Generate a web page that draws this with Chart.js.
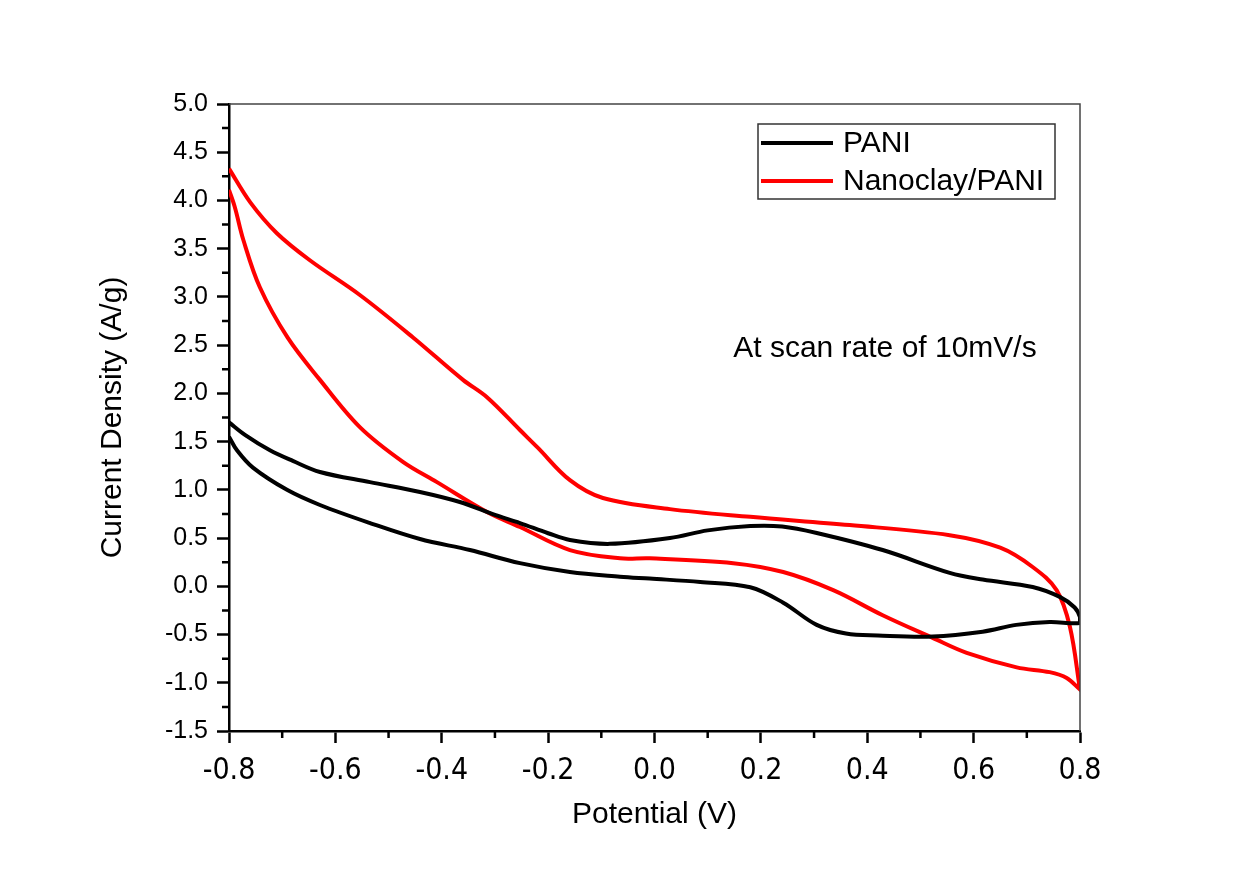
<!DOCTYPE html>
<html>
<head>
<meta charset="utf-8">
<title>CV curves</title>
<script src="https://cdn.jsdelivr.net/npm/chart.js@4.4.1/dist/chart.umd.min.js"></script>
<style>
    body { margin: 0; background: #fff; }
    #wrap { width: 1243px; height: 871px; }
</style>
</head>
<body>
<div id="wrap"><canvas id="cv-chart" width="1243" height="871"></canvas></div>
<script>
// PANI loop: forward sweep -0.8 -> 0.8, then back
const paniX = [-0.8, -0.77, -0.723, -0.68, -0.629, -0.535, -0.441, -0.366, -0.3, -0.253, -0.2, -0.159, -0.084, 0.029, 0.1, 0.18, 0.24, 0.305, 0.429, 0.555, 0.617, 0.711, 0.762, 0.79, 0.8,
               0.8, 0.743, 0.68, 0.617, 0.523, 0.42, 0.36, 0.305, 0.242, 0.18, 0.086, -0.009, -0.065, -0.159, -0.253, -0.347, -0.441, -0.535, -0.629, -0.691, -0.755, -0.785, -0.8];
const paniY = [1.70, 1.57, 1.41, 1.30, 1.185, 1.08, 0.978, 0.874, 0.74, 0.656, 0.55, 0.48, 0.44, 0.50, 0.58, 0.625, 0.62, 0.553, 0.376, 0.14, 0.07, -0.007, -0.11, -0.22, -0.32,
               -0.38, -0.37, -0.40, -0.47, -0.52, -0.51, -0.49, -0.40, -0.17, -0.01, 0.045, 0.08, 0.10, 0.148, 0.24, 0.376, 0.49, 0.656, 0.843, 1.0, 1.23, 1.41, 1.55];

// Nanoclay/PANI loop
const clayX = [-0.8, -0.76, -0.71, -0.648, -0.554, -0.454, -0.36, -0.315, -0.253, -0.22, -0.159, -0.097, 0.029, 0.18, 0.367, 0.555, 0.65, 0.711, 0.756, 0.781, 0.8,
               0.8, 0.775, 0.743, 0.681, 0.587, 0.523, 0.429, 0.336, 0.242, 0.148, -0.009, -0.065, -0.159, -0.253, -0.315, -0.409, -0.473, -0.554, -0.629, -0.69, -0.742, -0.773, -0.789, -0.8];
const clayY = [4.33, 3.98, 3.66, 3.38, 3.02, 2.58, 2.14, 1.96, 1.62, 1.44, 1.10, 0.915, 0.80, 0.72, 0.635, 0.53, 0.40, 0.20, -0.04, -0.42, -1.07,
               -1.07, -0.95, -0.89, -0.84, -0.69, -0.535, -0.30, -0.04, 0.148, 0.24, 0.29, 0.29, 0.376, 0.615, 0.77, 1.08, 1.29, 1.65, 2.14, 2.58, 3.10, 3.59, 3.93, 4.11];

const xTickValues = [-0.8, -0.6, -0.4, -0.2, 0.0, 0.2, 0.4, 0.6, 0.8];
const yTickValues = [-1.5, -1.0, -0.5, 0.0, 0.5, 1.0, 1.5, 2.0, 2.5, 3.0, 3.5, 4.0, 4.5, 5.0];

const seriesNames = ['PANI', 'Nanoclay/PANI'];
const seriesColors = ['#000000', '#ff0000'];
const noteText = 'At scan rate of 10mV/s';
const noteAt = [0.148, 2.46];

function toPoints(xs, ys) {
    return xs.map((v, i) => ({ x: v, y: ys[i] }));
}

const extrasPlugin = {
    id: 'extras',
    afterDraw(chart) {
        const ctx = chart.ctx;
        const a = chart.chartArea;
        const xs = chart.scales.x;
        const ys = chart.scales.y;
        ctx.save();

        // thin frame on top and right
        ctx.strokeStyle = '#444';
        ctx.lineWidth = 1.5;
        ctx.beginPath();
        ctx.moveTo(a.left, a.top);
        ctx.lineTo(a.right, a.top);
        ctx.lineTo(a.right, a.bottom);
        ctx.stroke();

        // minor ticks, halfway between the major ones
        ctx.strokeStyle = '#000';
        ctx.lineWidth = 2.5;
        ctx.beginPath();
        for (let i = 0; i < xTickValues.length - 1; i++) {
            const px = xs.getPixelForValue((xTickValues[i] + xTickValues[i + 1]) / 2);
            ctx.moveTo(px, a.bottom);
            ctx.lineTo(px, a.bottom + 7);
        }
        for (let i = 0; i < yTickValues.length - 1; i++) {
            const py = ys.getPixelForValue((yTickValues[i] + yTickValues[i + 1]) / 2);
            ctx.moveTo(a.left, py);
            ctx.lineTo(a.left - 7, py);
        }
        ctx.stroke();

        // annotation
        ctx.fillStyle = '#000';
        ctx.font = '30px "Liberation Sans", Arial, sans-serif';
        ctx.textBaseline = 'middle';
        ctx.textAlign = 'left';
        ctx.fillText(noteText, xs.getPixelForValue(noteAt[0]), ys.getPixelForValue(noteAt[1]));

        // legend box
        const bx = a.right - 322, by = a.top + 20, bw = 297, bh = 75;
        ctx.strokeStyle = '#333';
        ctx.lineWidth = 1.5;
        ctx.strokeRect(bx, by, bw, bh);
        chart.data.datasets.forEach((ds, i) => {
            const ly = by + 19 + i * 38;
            ctx.strokeStyle = ds.borderColor;
            ctx.lineWidth = 4;
            ctx.beginPath();
            ctx.moveTo(bx + 3, ly);
            ctx.lineTo(bx + 75, ly);
            ctx.stroke();
            ctx.fillStyle = '#000';
            ctx.fillText(ds.label, bx + 85, ly + 1);
        });
        ctx.restore();
    }
};

const ctx = document.getElementById('cv-chart').getContext('2d');
const cvChart = new Chart(ctx, {
    type: 'scatter',
    data: {
        datasets: [
            {
                label: seriesNames[0],
                data: toPoints(paniX, paniY),
                borderColor: seriesColors[0],
                backgroundColor: seriesColors[0],
                borderWidth: 4,
                showLine: true,
                pointRadius: 0,
                tension: 0.35,
                fill: false
            },
            {
                label: seriesNames[1],
                data: toPoints(clayX, clayY),
                borderColor: seriesColors[1],
                backgroundColor: seriesColors[1],
                borderWidth: 4,
                showLine: true,
                pointRadius: 0,
                tension: 0.35,
                fill: false
            }
        ]
    },
    options: {
        responsive: false,
        devicePixelRatio: 1,
        animation: false,
        layout: { padding: { left: 0, right: 163, top: 104, bottom: 0 } },
        plugins: {
            legend: { display: false },
            tooltip: { enabled: false }
        },
        scales: {
            x: {
                type: 'linear',
                min: -0.8,
                max: 0.8,
                afterBuildTicks: scale => { scale.ticks = xTickValues.map(v => ({ value: v })); },
                afterFit: scale => { scale.height = 140; },
                border: { color: '#000', width: 2.5 },
                grid: { drawOnChartArea: false, tickLength: 12, tickColor: '#000', tickWidth: 2.5 },
                ticks: {
                    autoSkip: false,
                    maxRotation: 0,
                    padding: 10,
                    color: '#000',
                    font: { family: '"Liberation Sans Narrow", "DejaVu Sans Condensed", Arial', size: 30 },
                    callback: v => Number(v).toFixed(1)
                },
                title: {
                    display: true,
                    text: 'Potential (V)',
                    color: '#000',
                    font: { family: '"Liberation Sans", Arial', size: 30 },
                    padding: { top: 0, bottom: 38 }
                }
            },
            y: {
                type: 'linear',
                min: -1.5,
                max: 5.0,
                afterBuildTicks: scale => { scale.ticks = yTickValues.map(v => ({ value: v })); },
                afterFit: scale => { scale.width = 229; },
                border: { color: '#000', width: 2.5 },
                grid: { drawOnChartArea: false, tickLength: 12, tickColor: '#000', tickWidth: 2.5 },
                ticks: {
                    autoSkip: false,
                    padding: 9,
                    color: '#000',
                    font: { family: '"Liberation Sans", Arial', size: 25 },
                    callback: v => Number(v).toFixed(1)
                },
                title: {
                    display: true,
                    text: 'Current Density (A/g)',
                    color: '#000',
                    font: { family: '"Liberation Sans", Arial', size: 30 },
                    padding: { top: 95, bottom: 0 }
                }
            }
        }
    },
    plugins: [extrasPlugin]
});
</script>
</body>
</html>
